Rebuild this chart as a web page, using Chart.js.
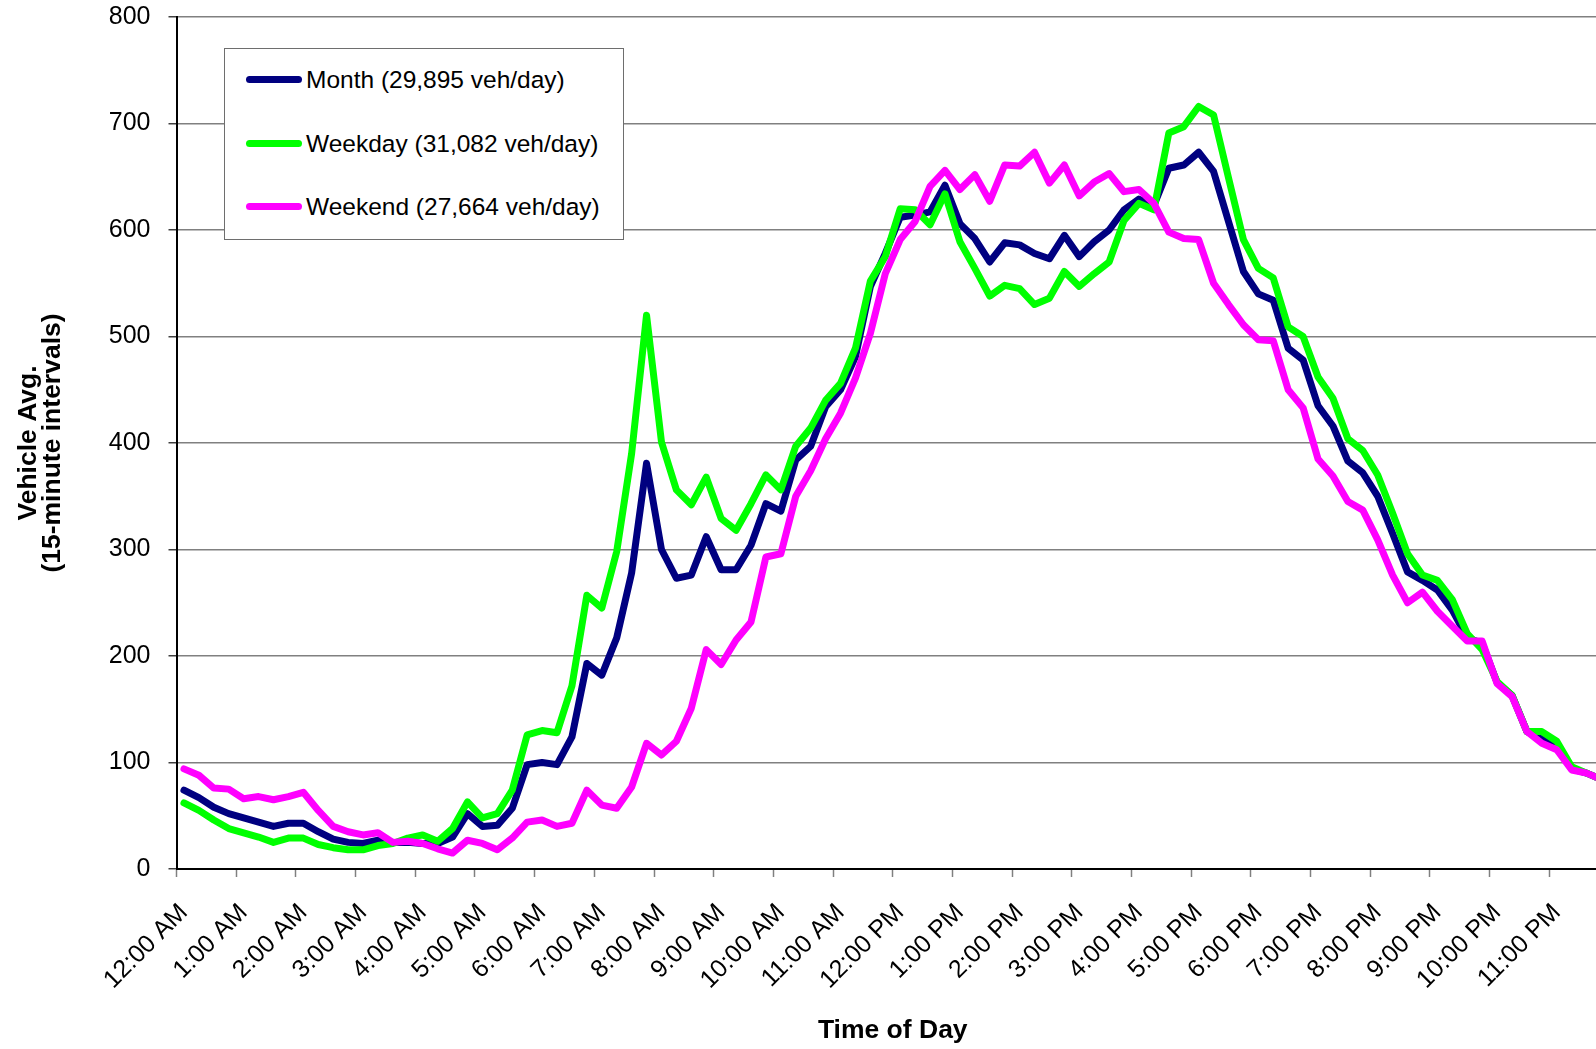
<!DOCTYPE html>
<html><head><meta charset="utf-8">
<script src="https://cdn.jsdelivr.net/npm/chart.js@4.4.0/dist/chart.umd.min.js"></script>
<style>
html,body{margin:0;padding:0;background:#fff;overflow:hidden;width:1596px;height:1049px;}
#wrap{position:relative;width:1596px;height:1049px;overflow:hidden;background:#fff;}
canvas{position:absolute;left:0;top:0;}
#legend{position:absolute;left:224px;top:48px;width:398px;height:190px;border:1.5px solid #6e6e6e;background:#fff;font-family:'Liberation Sans',Arial,sans-serif;font-size:24.5px;color:#000;}
.item{position:absolute;left:0;height:30px;display:flex;align-items:center;white-space:nowrap;}
.swatch{width:56px;height:7px;border-radius:4px;margin-left:21px;margin-right:4px;}
</style></head>
<body><div id="wrap"><canvas id="c" width="1620" height="1049" style="width:1620px;height:1049px"></canvas><div id="legend"></div></div>
<script>
const hourLabels = ['12:00 AM','1:00 AM','2:00 AM','3:00 AM','4:00 AM','5:00 AM','6:00 AM','7:00 AM','8:00 AM','9:00 AM','10:00 AM','11:00 AM',
  '12:00 PM','1:00 PM','2:00 PM','3:00 PM','4:00 PM','5:00 PM','6:00 PM','7:00 PM','8:00 PM','9:00 PM','10:00 PM','11:00 PM'];
const categories = hourLabels.flatMap(h => [h, h.replace(':00', ':15'), h.replace(':00', ':30'), h.replace(':00', ':45')]);

const seriesNames = ['Month (29,895 veh/day)', 'Weekday (31,082 veh/day)', 'Weekend (27,664 veh/day)'];
const seriesColors = ['#000080', '#00FF00', '#FF00FF'];

const month = [74,67,58,52,48,44,40,43,43,35, 28,25,24,27,25,25,24,24,30,52,
  40,41,57,98,100,98,124,193,182,217, 278,381,300,273,276,312,281,281,304,343,
  336,384,397,434,450,481,547,578,612,614, 617,642,606,592,570,588,586,578,573,595,
  575,589,600,619,629,623,658,661,673,655, 608,561,540,534,489,478,435,416,383,372,
  350,315,279,271,262,243,217,212,175,163, 129,122,115,94,90,84];

const weekday = [62,55,46,38,34,30,25,29,29,23, 20,18,18,22,24,29,32,26,38,63,
  48,52,74,126,130,128,172,257,245,298, 390,520,401,356,342,368,329,318,343,370,
  356,397,414,440,456,489,552,575,620,619, 605,634,589,564,538,548,545,530,536,561,
  547,559,570,609,625,619,691,697,716,708, 649,591,564,555,509,500,462,442,404,393,
  370,334,296,276,271,253,221,206,176,163, 129,129,120,96,90,84];

const weekend = [94,88,76,75,66,68,65,68,72,55, 40,35,32,34,25,26,24,19,15,27,
  24,18,29,44,46,40,43,74,60,57, 77,118,107,120,151,206,192,215,232,293,
  296,350,374,404,428,461,503,559,591,608, 641,656,638,652,627,661,660,673,644,661,
  632,645,653,636,638,625,598,592,591,550, 530,511,497,496,450,433,385,369,345,337,
  309,276,250,260,242,228,214,214,174,162, 129,118,112,93,90,84];

const yTicks = [0,100,200,300,400,500,600,700,800];
const seriesData = [month, weekday, weekend];

const FONT = "'Liberation Sans', Arial, sans-serif";
Chart.defaults.font.family = FONT;
Chart.defaults.color = '#000';

const datasets = seriesData.map((d, k) => ({
  label: seriesNames[k],
  data: d,
  borderColor: seriesColors[k],
  backgroundColor: seriesColors[k],
  borderWidth: 7,
  pointRadius: 0,
  tension: 0,
  borderJoinStyle: 'round',
  borderCapStyle: 'round',
  fill: false,
  order: seriesData.length - k
}));

new Chart(document.getElementById('c'), {
  type: 'line',
  data: { labels: categories, datasets },
  options: {
    responsive: false,
    animation: false,
    devicePixelRatio: 1,
    layout: { padding: { left: 0, top: 17, right: 11, bottom: 0 } },
    plugins: { legend: { display: false }, tooltip: { enabled: false } },
    scales: {
      x: {
        type: 'category',
        offset: true,
        afterFit: s => { s.height = 180; s.paddingLeft = 0; s.paddingRight = 0; },
        grid: {
          offset: true,
          drawOnChartArea: false,
          drawTicks: true,
          tickLength: 8,
          tickWidth: 1.5,
          tickColor: ctx => (ctx.index % 4 === 0 ? '#808080' : 'rgba(0,0,0,0)')
        },
        border: { display: true, color: '#000', width: 2 },
        ticks: {
          autoSkip: false,
          minRotation: 45,
          maxRotation: 45,
          padding: 21,
          font: { size: 25 },
          color: '#000',
          callback: (v, i) => (i % 4 === 0 ? categories[i] : '')
        },
        title: {
          display: true,
          text: 'Time of Day',
          font: { size: 26.5, weight: 'bold' },
          padding: { top: 0, bottom: 2 },
          color: '#000'
        }
      },
      y: {
        min: yTicks[0],
        max: yTicks[yTicks.length - 1],
        afterFit: s => { s.width = 176.5; s.paddingTop = 0; s.paddingBottom = 0; },
        afterBuildTicks: s => { s.ticks = yTicks.map(v => ({ value: v })); },
        grid: {
          color: '#808080',
          lineWidth: 1.5,
          tickLength: 8,
          tickColor: '#404040',
          drawTicks: true
        },
        border: { display: true, color: '#000', width: 2 },
        ticks: { font: { size: 25 }, color: '#000', padding: 18 },
        title: {
          display: true,
          text: ['Vehicle Avg.', '(15-minute intervals)'],
          font: { size: 26.5, weight: 'bold', lineHeight: 0.93 },
          padding: { top: 16, bottom: 0 },
          color: '#000'
        }
      }
    }
  }
});

// legend box (HTML, text from the series arrays)
const legend = document.getElementById('legend');
const centers = [30.5, 94.5, 157.5];
seriesNames.forEach((name, k) => {
  const it = document.createElement('div');
  it.className = 'item';
  it.style.top = (centers[k] - 15) + 'px';
  const sw = document.createElement('div');
  sw.className = 'swatch';
  sw.style.background = seriesColors[k];
  const tx = document.createElement('span');
  tx.textContent = name;
  it.appendChild(sw); it.appendChild(tx);
  legend.appendChild(it);
});
</script></body></html>
